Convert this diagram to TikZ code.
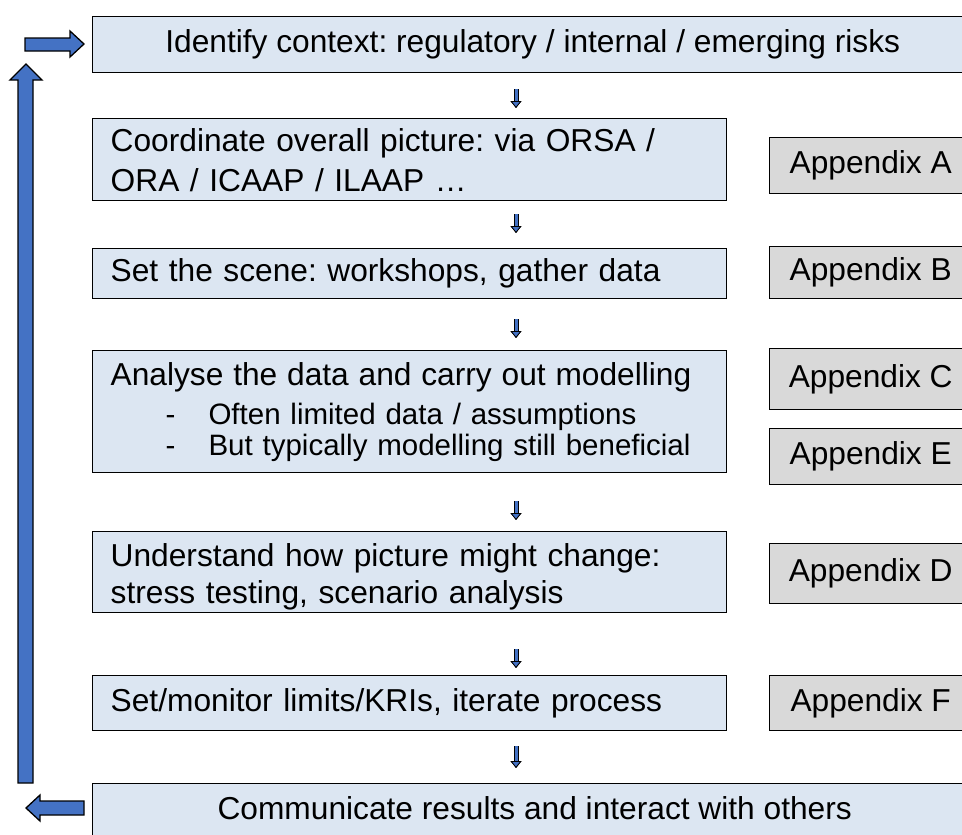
\documentclass[tikz,border=0pt]{standalone}
\usepackage{fontspec}
\setmainfont{Liberation Sans}
\usetikzlibrary{arrows.meta}
\definecolor{boxblue}{HTML}{DCE6F2}
\definecolor{boxgray}{HTML}{D9D9D9}
\definecolor{arrowblue}{HTML}{4472C4}
\frenchspacing
\begin{document}
\begin{tikzpicture}[x=1pt,y=-1pt,
  procbox/.style={draw=black, line width=1.4pt, fill=boxblue, inner xsep=18pt, inner ysep=0pt,
    align=left, anchor=north west, font=\fontsize{31.7}{40}\selectfont},
  appbox/.style={draw=black, line width=1.4pt, fill=boxgray, inner sep=0pt, anchor=north west,
    minimum width=202pt, font=\fontsize{31.7}{38}\selectfont},
  bigarrow/.style={draw=black, line width=1.3pt, fill=arrowblue, line join=miter},
  flow/.style={draw=arrowblue, line width=3pt,
    -{Triangle[width=11pt,length=7pt,line width=0.8pt,color=black,fill=arrowblue]},
    preaction={draw=black, line width=5pt}}]
\clip (0,0) rectangle (962,835);
% process boxes
\node[procbox, align=center, minimum width=880pt, minimum height=56pt] (b1) at (92,16)
  {Identify context: regulatory / internal / emerging risks};
\node[procbox, minimum width=634pt, text width=598pt, minimum height=82pt] (b2) at (92,118)
  {Coordinate overall picture: via ORSA /\\ORA / ICAAP / ILAAP …};
\node[procbox, minimum width=634pt, text width=598pt, minimum height=50pt] (b3) at (92,248)
  {Set the scene: workshops, gather data};
\node[procbox, minimum width=634pt, text width=598pt, minimum height=122pt,
      font=\fontsize{29.5}{31}\selectfont] (b4) at (92,350)
  {{\fontsize{31.7}{31}\selectfont Analyse the data and carry out modelling}\\[8pt]
   \hspace*{55pt}-\hspace*{33pt}Often limited data / assumptions\\
   \hspace*{55pt}-\hspace*{33pt}But typically modelling still beneficial};
\node[procbox, minimum width=634pt, text width=598pt, minimum height=0pt,
      text height=35pt, text depth=46pt, font=\fontsize{31.7}{37}\selectfont] (b5) at (92,531)
  {Understand how picture might change:\\stress testing, scenario analysis};
\node[procbox, minimum width=634pt, text width=598pt, minimum height=55pt] (b6) at (92,675)
  {Set/monitor limits/KRIs, iterate process};
\node[procbox, align=center, minimum width=884pt, minimum height=0pt,
      text height=36pt, text depth=30pt] (b7) at (92,783)
  {Communicate results and interact with others};
% appendix boxes
\node[appbox, minimum height=56pt] (apA) at (769,137) {Appendix A};
\node[appbox, minimum height=52pt] (apB) at (769,246) {Appendix B};
\node[appbox, minimum height=61pt] (apC) at (769,348) {Appendix C};
\node[appbox, minimum height=56pt] (apE) at (769,428) {Appendix E};
\node[appbox, minimum height=60pt] (apD) at (769,543) {Appendix D};
\node[appbox, minimum height=55pt] (apF) at (769,675) {Appendix F};
% small flow arrows
\coordinate (col) at (516,0);
\draw[flow, shorten <=16pt, shorten >=10pt] (col |- b1.south) -- (col |- b2.north);
\draw[flow, shorten <=13pt, shorten >=15pt] (col |- b2.south) -- (col |- b3.north);
\draw[flow, shorten <=20pt, shorten >=12pt] (col |- b3.south) -- (col |- b4.north);
\draw[flow, shorten <=28pt, shorten >=11pt] (col |- b4.south) -- (col |- b5.north);
\draw[flow, shorten <=36pt, shorten >=7pt] (col |- b5.south) -- (col |- b6.north);
\draw[flow, shorten <=15pt, shorten >=15pt] (col |- b6.south) -- (col |- b7.north);
% big feedback arrows
\draw[bigarrow] (25,38) -- (70,38) -- (70,31) -- (84,44) -- (70,57) -- (70,51) -- (25,51) -- cycle;
\draw[bigarrow] (18,783) -- (18,80) -- (10,80) -- (26,64) -- (42,80) -- (33,80) -- (33,783) -- cycle;
\draw[bigarrow] (84,801) -- (40,801) -- (40,795) -- (26,808) -- (40,821) -- (40,815) -- (84,815) -- cycle;
\end{tikzpicture}
\end{document}
